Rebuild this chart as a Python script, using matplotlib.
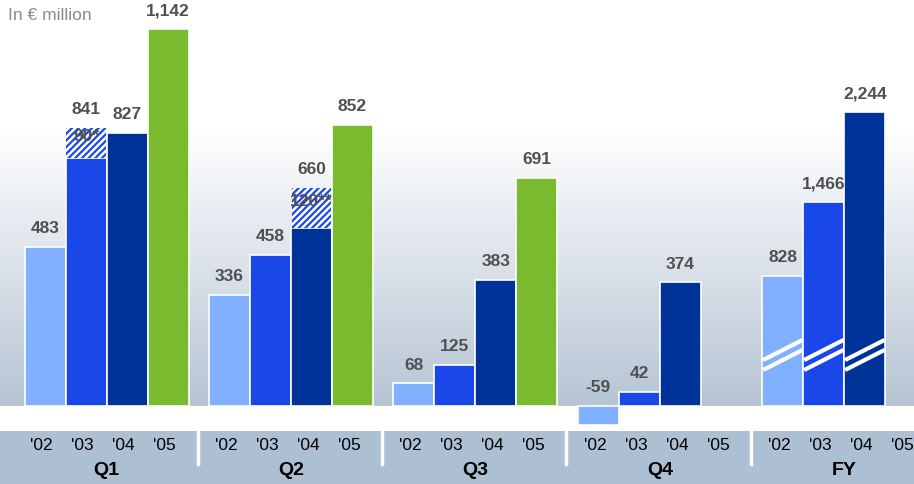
import numpy as np
import matplotlib.pyplot as plt
from matplotlib.colors import LinearSegmentedColormap

plt.rcParams['font.family'] = ['Liberation Sans', 'DejaVu Sans']
plt.rcParams['hatch.linewidth'] = 1.6

# data (EUR million)
quarters = ['Q1', 'Q2', 'Q3', 'Q4']
years = ["'02", "'03", "'04", "'05"]
q1 = [483, 841, 827, 1142]
q2 = [336, 458, 660, 852]
q3 = [68, 125, 383, 691]
q4 = [-59, 42, 374]
fy = [828, 1466, 2244]
# special items shown hatched on top of the bar
special = {(0, 1): (90, '90*'), (1, 2): (120, '120**')}

colors = ['#80b0ff', '#1a47e8', '#003399', '#7aba2e']
label_col = '#505050'
GROUP_STEP = 4.5

fig = plt.figure(figsize=(9.14, 4.85), dpi=100)
ax = fig.add_axes([0, 53 / 485, 1, 432 / 485])
ax_fy = fig.add_axes([0, 53 / 485, 1, 432 / 485], sharex=ax)
band = fig.add_axes([0, 0, 1, 53 / 485])

xlim = (-1.1, 21.2)
ax.set_xlim(*xlim)
ax.set_ylim(-76, 1233)
# FY uses its own compressed (broken) scale
fy_floor = -294
ax_fy.set_ylim(-510, 3221)

# background gradient above the zero line
cmap = LinearSegmentedColormap.from_list('bg', [(0, '#b6c4d4'), (0.68, '#ffffff'), (1, '#ffffff')])
grad = np.linspace(0, 1, 256).reshape(-1, 1)
ax.imshow(grad, cmap=cmap, aspect='auto', origin='lower',
          extent=(xlim[0], xlim[1], 0, 1233), zorder=0)

def label(a, x, v, txt):
    a.annotate(txt, xy=(x, max(v, 0)), xytext=(0, 14), textcoords='offset points',
               ha='center', va='center', fontsize=12.5, fontweight='bold', color=label_col)

for g, vals in enumerate([q1, q2, q3, q4]):
    for i, v in enumerate(vals):
        x = g * GROUP_STEP + i
        if (g, i) in special:
            s, stxt = special[(g, i)]
            ax.bar(x, v - s, width=1, color=colors[i], edgecolor='white', lw=1.2, zorder=2)
            ax.bar(x, s, bottom=v - s, width=0.96, color='white', edgecolor=colors[1],
                   hatch='/////', lw=0, zorder=2)
            ax.text(x, v - s / 2 + 22, stxt, ha='center', va='center', fontsize=12.5,
                    fontweight='bold', color=label_col, zorder=3)
        else:
            ax.bar(x, v, width=1, color=colors[i], edgecolor='white', lw=1.2, zorder=2)
        label(ax, x, v, f'{v:,}')

for i, v in enumerate(fy):
    x = 4 * GROUP_STEP + i
    ax_fy.bar(x, v - fy_floor, bottom=fy_floor, width=1, color=colors[i],
              edgecolor='white', lw=1.2, zorder=2)
    for b0, b1 in [(103, 276), (17, 190)]:
        ax_fy.plot([x - 0.48, x + 0.48], [b0, b1], color='white', lw=3, zorder=3,
                   solid_capstyle='butt')
    label(ax_fy, x, v, f'{v:,}')

for a in (ax, ax_fy):
    a.axis('off')
ax_fy.patch.set_alpha(0)

ax.text(0.009, 0.982, 'In € million', transform=ax.transAxes, ha='left', va='top',
        fontsize=12.5, color='#8a8a8a')

# bottom band with year ticks and group labels
band.set_xlim(*xlim)
band.set_ylim(0, 1)
band.set_facecolor('#adbfd3')
for s in band.spines.values():
    s.set_visible(False)
band.set_xticks([])
band.set_yticks([])
for g, name in enumerate(quarters + ['FY']):
    for i, yr in enumerate(years):
        band.text(g * GROUP_STEP + i - 0.08, 0.74, yr, ha='center', va='center',
                  fontsize=12.5, color='black')
    band.text(g * GROUP_STEP + 1.5, 0.28, name, ha='center', va='center', fontsize=14,
              fontweight='bold', color='black')
    if g > 0:
        band.axvline(g * GROUP_STEP - 0.78, ymin=0.38, ymax=1, color='white', lw=2.5)

fig.savefig('out.png', dpi=100)
